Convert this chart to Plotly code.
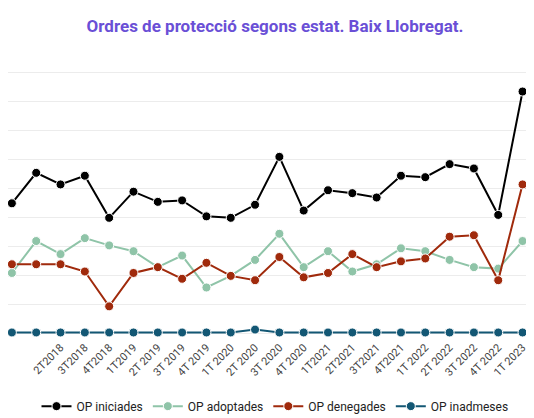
import plotly.graph_objects as go

quarters = ["4T 2017", "1T 2018", "2T2018", "3T2018", "4T2018", "1T2019", "2T 2019", "3T 2019",
            "4T 2019", "1T 2020", "2T 2020", "3T 2020", "4T 2020", "1T2021", "2T2021", "3T2021",
            "4T2021", "1T 2022", "2T 2022", "3T 2022", "4T 2022", "1T 2023", "2T 2023"]

op_iniciades = [90, 111, 103, 109, 80, 98, 91, 92, 81, 80, 89, 122, 85, 99, 97, 94,
                109, 108, 117, 114, 82, 167, 163]
op_adoptades = [42, 64, 55, 66, 61, 57, 46, 54, 32, 40, 51, 69, 46, 57, 43, 48,
                59, 57, 51, 46, 45, 64, 72]
op_denegades = [48, 48, 48, 43, 19, 42, 46, 38, 49, 40, 37, 53, 39, 42, 55, 46,
                50, 52, 67, 68, 37, 103, 88]
op_inadmeses = [1, 1, 1, 1, 1, 1, 1, 1, 1, 1, 3, 1, 1, 1, 1, 1,
                1, 1, 1, 1, 1, 1, 2]

series = [
    ("OP iniciades", op_iniciades, "#000000"),
    ("OP adoptades", op_adoptades, "#8fc4a8"),
    ("OP denegades", op_denegades, "#a02a0c"),
    ("OP inadmeses", op_inadmeses, "#135774"),
]

fig = go.Figure()
for name, vals, color in series:
    fig.add_trace(go.Scatter(
        x=list(range(len(quarters))), y=vals, name=name, mode="lines+markers",
        line=dict(color=color, width=2),
        marker=dict(color=color, size=9, line=dict(color="white", width=1)),
    ))

fig.update_layout(
    width=534, height=418,
    margin=dict(l=0, r=0, t=40, b=88, autoexpand=False),
    paper_bgcolor="white", plot_bgcolor="white",
    font=dict(family="Roboto, sans-serif", color="#333"),
    title=dict(text="<b>Ordres de protecció segons estat. Baix Llobregat.</b>",
               x=0.5, xanchor="center", y=0.957, yanchor="middle",
               font=dict(size=17, color="#6a4fd6")),
    legend=dict(orientation="h", x=0.5, xanchor="center", y=-0.235, yanchor="middle",
                font=dict(size=12, color="#222"), itemwidth=30),
    showlegend=True,
)
fig.update_xaxes(
    tickmode="array", tickvals=list(range(len(quarters))), ticktext=quarters,
    tickangle=-45, tickfont=dict(size=11, color="#444"), automargin=False,
    range=[-0.16, 21.8], showgrid=False, zeroline=False, showline=False,
)
fig.update_yaxes(
    range=[-2.8, 197], dtick=20, showticklabels=False, showgrid=True,
    gridcolor="#ececec", zeroline=False, automargin=False,
)

fig.write_html("out.html")
